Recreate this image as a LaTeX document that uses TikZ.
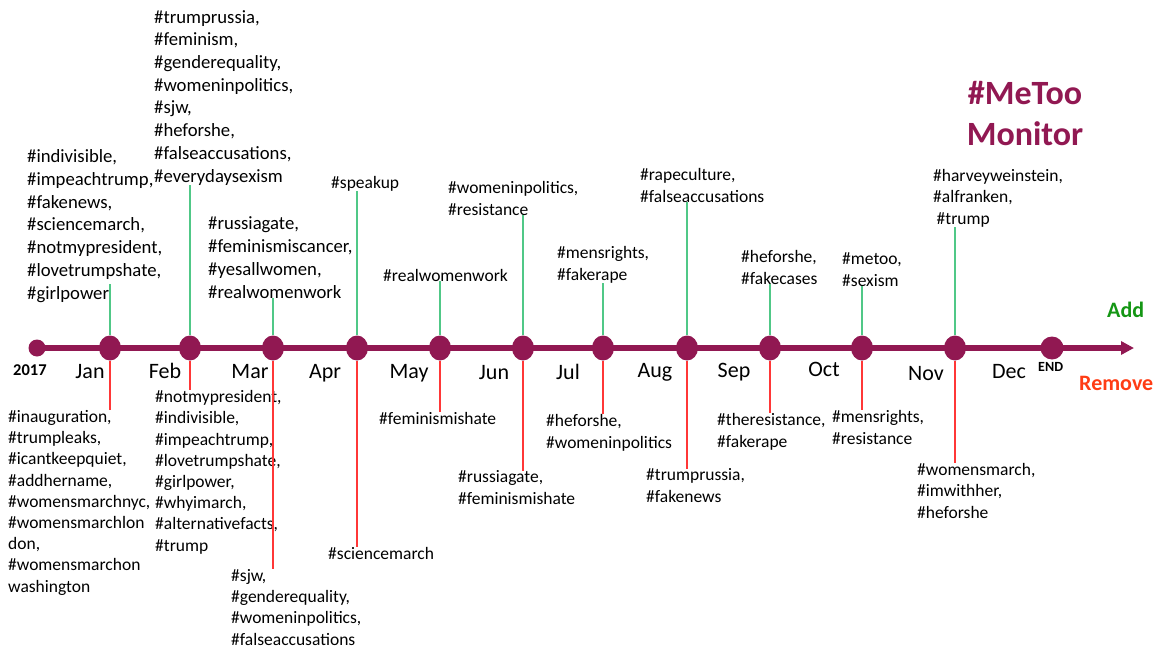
\documentclass[tikz,border=0pt]{standalone}
\usepackage{fontspec}
\setmainfont{Carlito}
\usetikzlibrary{arrows.meta, shapes.geometric}

\definecolor{maroon}{RGB}{145,24,82}
\definecolor{addgreen}{RGB}{80,200,135}
\definecolor{remred}{RGB}{255,55,55}
\definecolor{addtext}{RGB}{20,150,20}
\definecolor{remtext}{RGB}{255,60,20}

\begin{document}
\begin{tikzpicture}[x=1pt, y=-1pt,
   dot/.style={ellipse, fill=maroon, inner sep=0, minimum width=22pt, minimum height=25pt},
   month/.style={font=\fontsize{22}{26}\selectfont, anchor=base},
   tag/.style={font=\fontsize{17.5}{21.2}\selectfont, align=left, anchor=base west, inner sep=0},
   bigtag/.style={tag, font=\fontsize{18.7}{22.7}\selectfont},
   addline/.style={draw=addgreen, line width=1.2pt},
   remline/.style={draw=remred, line width=1.2pt}]
   \useasboundingbox (0,0) rectangle (1156,650);

   \node[circle, fill=maroon, minimum size=17pt, inner sep=0] (start) at (37,348) {};
   \node[dot] (jan) at (110,348) {};
   \node[dot] (feb) at (190,348) {};
   \node[dot] (mar) at (273,348) {};
   \node[dot] (apr) at (357,348) {};
   \node[dot] (may) at (440,348) {};
   \node[dot] (jun) at (523,348) {};
   \node[dot] (jul) at (603,348) {};
   \node[dot] (aug) at (687,348) {};
   \node[dot] (sep) at (770,348) {};
   \node[dot] (oct) at (862,348) {};
   \node[dot] (nov) at (955,348) {};
   \node[circle, fill=maroon, minimum size=23pt, inner sep=0] (endpt) at (1052,348) {};
   \coordinate (tip) at (1134,348);
   \draw[maroon, line width=5.5pt, -{Triangle[length=13pt, width=13pt]}] (start.center) -- (tip);

   \node[font=\fontsize{16.5}{20}\selectfont\bfseries, anchor=base west, inner sep=0] (yr) at (13,375) {2017};
   \node[font=\fontsize{14}{17}\selectfont\bfseries, anchor=base west, inner sep=0] (endlbl) at (1038,371) {END};
   \node[month] (janlbl) at (90,378) {Jan};
   \node[month] (feblbl) at (165,378) {Feb};
   \node[month] (marlbl) at (250,378) {Mar};
   \node[month] (aprlbl) at (325,378) {Apr};
   \node[month] (maylbl) at (409,378) {May};
   \node[month] (junlbl) at (494,379) {Jun};
   \node[month] (jullbl) at (568,379) {Jul};
   \node[month] (auglbl) at (655,377) {Aug};
   \node[month] (seplbl) at (734,377) {Sep};
   \node[month] (octlbl) at (824,376) {Oct};
   \node[month] (novlbl) at (926,380) {Nov};
   \node[month] (declbl) at (1009,378) {Dec};

   \node[font=\fontsize{34}{41}\selectfont\bfseries, text=maroon, align=center, anchor=base] (title) at (1025,146) {\#MeToo\\Monitor};
   \node[font=\fontsize{22}{26}\selectfont\bfseries, text=addtext, anchor=base west, inner sep=0] (add) at (1107,317) {Add};
   \node[font=\fontsize{22}{26}\selectfont\bfseries, text=remtext, anchor=base west, inner sep=0] (remove) at (1079,390) {Remove};

   \node[bigtag] (janadd) at (27,299) {\#indivisible,\\\#impeachtrump,\\\#fakenews,\\\#sciencemarch,\\\#notmypresident,\\\#lovetrumpshate,\\\#girlpower};
   \node[bigtag] (febadd) at (154,182) {\#trumprussia,\\\#feminism,\\\#genderequality,\\\#womeninpolitics,\\\#sjw,\\\#heforshe,\\\#falseaccusations,\\\#everydaysexism};
   \node[bigtag] (maradd) at (208,298) {\#russiagate,\\\#feminismiscancer,\\\#yesallwomen,\\\#realwomenwork};
   \node[tag] (apradd) at (331,188) {\#speakup};
   \node[tag] (mayadd) at (383,281) {\#realwomenwork};
   \node[tag] (junadd) at (448,215) {\#womeninpolitics,\\\#resistance};
   \node[tag] (juladd) at (557,280) {\#mensrights,\\\#fakerape};
   \node[tag] (augadd) at (640,202) {\#rapeculture,\\\#falseaccusations};
   \node[tag] (sepadd) at (741,284) {\#heforshe,\\\#fakecases};
   \node[tag] (octadd) at (842,286) {\#metoo,\\\#sexism};
   \node[tag] (novadd) at (933,224) {\#harveyweinstein,\\\#alfranken,\\\hspace*{3.5pt}\#trump};

   \node[tag] (janrem) at (8,592) {\#inauguration,\\\#trumpleaks,\\\#icantkeepquiet,\\\#addhername,\\\#womensmarchnyc,\\\#womensmarchlon\\don,\\\#womensmarchon\\washington};
   \node[tag] (febrem) at (155,551) {\#notmypresident,\\\#indivisible,\\\#impeachtrump,\\\#lovetrumpshate,\\\#girlpower,\\\#whyimarch,\\\#alternativefacts,\\\#trump};
   \node[tag] (marrem) at (231,645) {\#sjw,\\\#genderequality,\\\#womeninpolitics,\\\#falseaccusations};
   \node[tag] (aprrem) at (328,559) {\#sciencemarch};
   \node[tag] (mayrem) at (379,424) {\#feminismishate};
   \node[tag] (junrem) at (458,504) {\#russiagate,\\\#feminismishate};
   \node[tag] (julrem) at (546,448) {\#heforshe,\\\#womeninpolitics};
   \node[tag] (augrem) at (646,502) {\#trumprussia,\\\#fakenews};
   \node[tag] (seprem) at (717,447) {\#theresistance,\\\#fakerape};
   \node[tag] (octrem) at (832,444) {\#mensrights,\\\#resistance};
   \node[tag] (novrem) at (917,518) {\#womensmarch,\\\#imwithher,\\\#heforshe};

   \path[addline, shorten >=-18pt] (jan.north) -- (jan.north |- janadd.south);
   \path[addline] (feb.north) -- (feb.north |- febadd.south);
   \path[addline] (mar.north) -- (mar.north |- maradd.south);
   \path[addline] (apr.north) -- (apr.north |- apradd.south);
   \path[addline] (may.north) -- (may.north |- mayadd.south);
   \path[addline] (jun.north) -- (jun.north |- junadd.south);
   \path[addline] (jul.north) -- (jul.north |- juladd.south);
   \path[addline] (aug.north) -- (aug.north |- augadd.south);
   \path[addline] (sep.north) -- (sep.north |- sepadd.south);
   \path[addline] (oct.north) -- (oct.north |- octadd.south);
   \path[addline] (nov.north) -- (nov.north |- novadd.south);

   \path[remline] (jan.south) -- (jan.south |- janrem.north);
   \path[remline] (feb.south) -- (feb.south |- febrem.north);
   \path[remline] (mar.south) -- (mar.south |- marrem.north);
   \path[remline] (apr.south) -- (apr.south |- aprrem.north);
   \path[remline] (may.south) -- (may.south |- mayrem.north);
   \path[remline] (jun.south) -- (jun.south |- junrem.north);
   \path[remline] (jul.south) -- (jul.south |- julrem.north);
   \path[remline] (aug.south) -- (aug.south |- augrem.north);
   \path[remline] (sep.south) -- (sep.south |- seprem.north);
   \path[remline] (oct.south) -- (oct.south |- octrem.north);
   \path[remline] (nov.south) -- (nov.south |- novrem.north);
\end{tikzpicture}
\end{document}
